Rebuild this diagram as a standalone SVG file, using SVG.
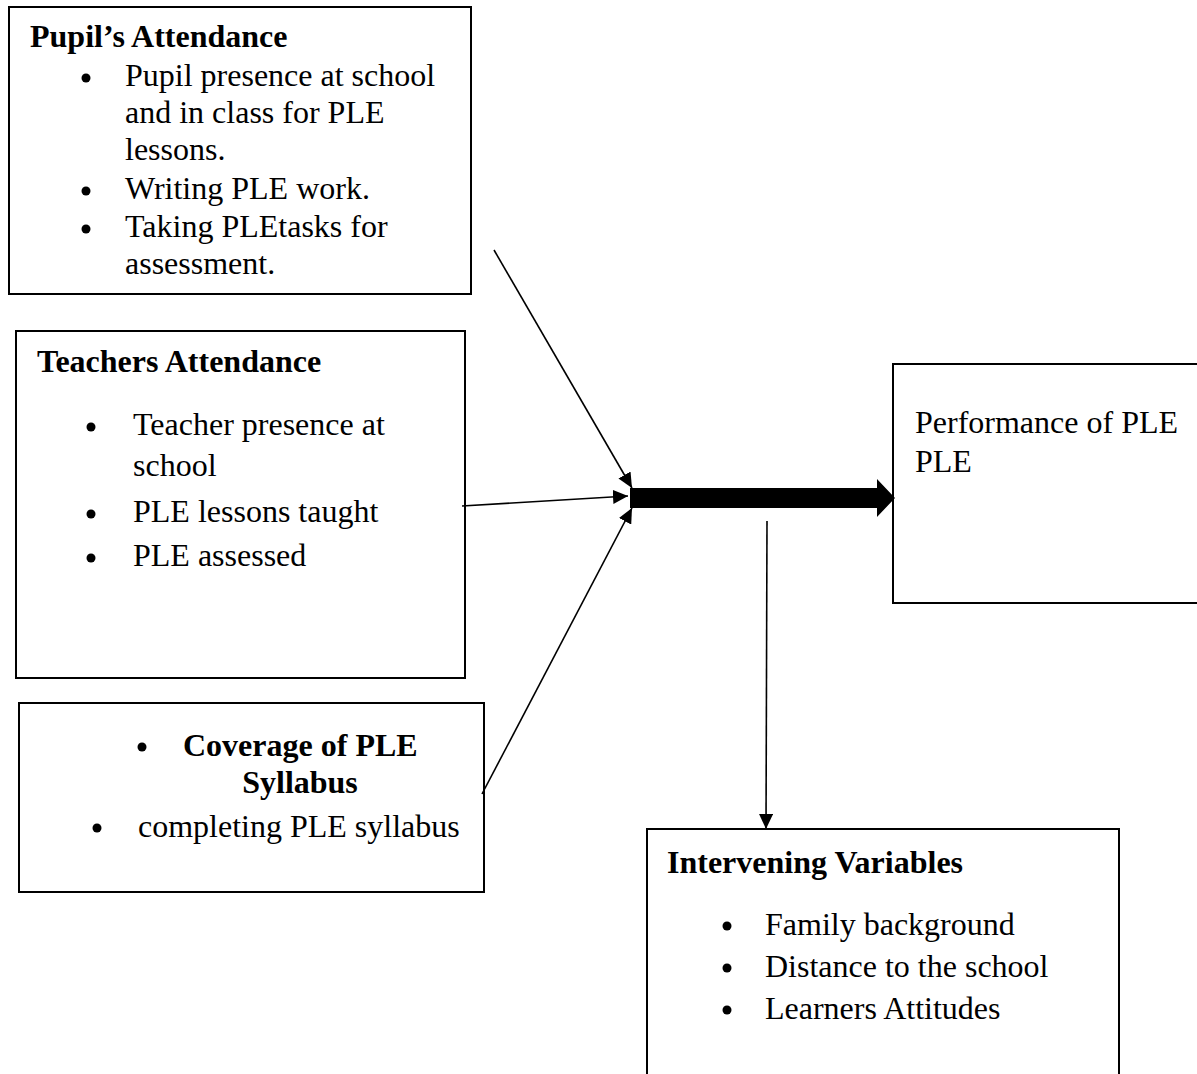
<svg xmlns="http://www.w3.org/2000/svg" width="1197" height="1074" viewBox="0 0 1197 1074">
<style>
.box{fill:#fff;stroke:#000;stroke-width:2}
.t{font-family:"Liberation Serif","Times New Roman",serif;font-size:32px;fill:#000}
.b{font-weight:bold}
.dot{fill:#000}
.ln{stroke:#000;stroke-width:1.6;fill:none}
</style>
<defs>
<marker id="ah" viewBox="0 0 15 14" refX="15" refY="7" markerWidth="15" markerHeight="14" markerUnits="userSpaceOnUse" orient="auto">
<path d="M0,0 L15,7 L0,14 z" fill="#000"/>
</marker>
</defs>
<rect width="1197" height="1074" fill="#fff"/>
<g id="pupils-attendance">
<rect class="box" x="9" y="7" width="462" height="287"/>
<text class="t b" x="30" y="47">Pupil’s Attendance</text>
<circle class="dot" cx="86" cy="78" r="4.5"/>
<text class="t" x="125" y="86">Pupil presence at school</text>
<text class="t" x="125" y="123">and in class for PLE</text>
<text class="t" x="125" y="160">lessons.</text>
<circle class="dot" cx="86" cy="191" r="4.5"/>
<text class="t" x="125" y="199">Writing PLE work.</text>
<circle class="dot" cx="86" cy="229" r="4.5"/>
<text class="t" x="125" y="237">Taking PLEtasks for</text>
<text class="t" x="125" y="274">assessment.</text>
</g>
<g id="teachers-attendance">
<rect class="box" x="16" y="331" width="449" height="347"/>
<text class="t b" x="37" y="372">Teachers Attendance</text>
<circle class="dot" cx="91" cy="427" r="4.5"/>
<text class="t" x="133" y="435">Teacher presence at</text>
<text class="t" x="133" y="476">school</text>
<circle class="dot" cx="91" cy="514" r="4.5"/>
<text class="t" x="133" y="522">PLE lessons taught</text>
<circle class="dot" cx="91" cy="558" r="4.5"/>
<text class="t" x="133" y="566">PLE assessed</text>
</g>
<g id="coverage">
<rect class="box" x="19" y="703" width="465" height="189"/>
<circle class="dot" cx="142" cy="747" r="4.5"/>
<text class="t b" x="183" y="756">Coverage of PLE</text>
<text class="t b" x="300" y="793" text-anchor="middle">Syllabus</text>
<circle class="dot" cx="97" cy="828" r="4.5"/>
<text class="t" x="138" y="837">completing PLE syllabus</text>
</g>
<g id="performance">
<rect class="box" x="893" y="364" width="310" height="239"/>
<text class="t" x="915" y="433">Performance of PLE</text>
<text class="t" x="915" y="472">PLE</text>
</g>
<g id="intervening">
<rect class="box" x="647" y="829" width="472" height="260"/>
<text class="t b" x="667" y="873">Intervening Variables</text>
<circle class="dot" cx="727" cy="926" r="4.5"/>
<text class="t" x="765" y="935">Family background</text>
<circle class="dot" cx="727" cy="968" r="4.5"/>
<text class="t" x="765" y="977">Distance to the school</text>
<circle class="dot" cx="727" cy="1010" r="4.5"/>
<text class="t" x="765" y="1019">Learners Attitudes</text>
</g>
<g id="connectors">
<polygon points="630,488 877,488 877,479 895,498 877,517 877,508 630,508" fill="#000"/>
<line class="ln" x1="494" y1="250" x2="632" y2="488" marker-end="url(#ah)"/>
<line class="ln" x1="462" y1="506" x2="628" y2="496" marker-end="url(#ah)"/>
<line class="ln" x1="482" y1="794" x2="632" y2="508" marker-end="url(#ah)"/>
<line class="ln" x1="767" y1="521" x2="766" y2="829" marker-end="url(#ah)"/>
</g>
</svg>
